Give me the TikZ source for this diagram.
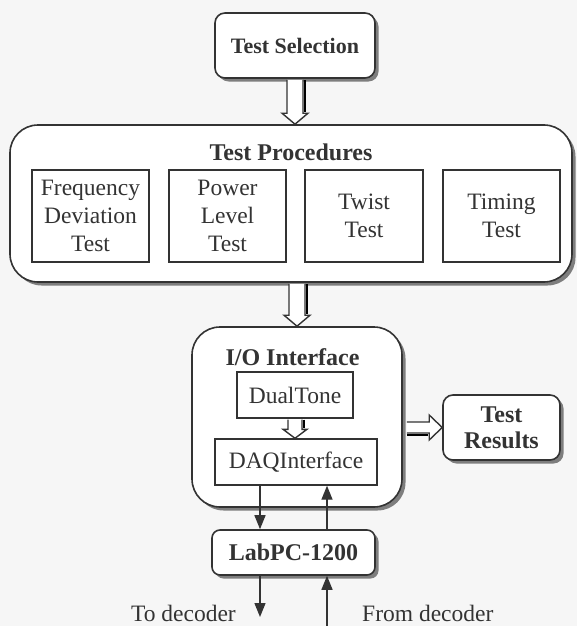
\documentclass[tikz,border=0pt]{standalone}
\usepackage{fontspec}
\setmainfont{Liberation Serif}
\usetikzlibrary{arrows.meta,calc,shadows}
\definecolor{ink}{HTML}{333333}
\definecolor{shade}{HTML}{7E7E7E}
\definecolor{paper}{HTML}{F6F6F6}
\newcommand\boldtxt{\bfseries\fontsize{24}{27}\selectfont}
\newcommand\regtxt{\fontsize{23.5}{28.3}\selectfont}
\newcommand\vhol[5]{%
  \draw[shade, line width=2pt] ($(#1)+(#3+2,1)$) -- ($(#2)+(#3+2,-#5-1)$);
  \draw[hol] ($(#1)+(-#3,1)$) -- ($(#2)+(-#3,-#5)$) -- ($(#2)+(-#4,-#5)$) -- (#2)
     -- ($(#2)+(#4,-#5)$) -- ($(#2)+(#3,-#5)$) -- ($(#1)+(#3,1)$);}
\newcommand\hhol[5]{%
  \draw[shade, line width=2pt] ($(#1)+(4,#3+2)$) -- ($(#2)+(-#5-1,#3+2)$);
  \draw[hol] ($(#1)+(4,-#3)$) -- ($(#2)+(-#5,-#3)$) -- ($(#2)+(-#5,-#4)$) -- (#2)
     -- ($(#2)+(-#5,#4)$) -- ($(#2)+(-#5,#3)$) -- ($(#1)+(4,#3)$);}
\begin{document}
\begin{tikzpicture}[x=1pt,y=-1pt,
  every node/.style={text=ink},
  roundbox/.style={draw=ink, line width=1.6pt, fill=white, align=center, inner sep=0pt,
    drop shadow={shadow xshift=3.5pt, shadow yshift=-3.5pt, fill=shade, opacity=1}},
  plainbox/.style={draw=ink, line width=1.4pt, fill=white, align=center, inner sep=0pt, font=\regtxt},
  hol/.style={draw=ink, line width=1.4pt, fill=white, line join=miter},
  thinarrow/.style={draw=ink, line width=1.4pt, -{Triangle[length=14pt,width=11pt]}},
  title/.style={font=\boldtxt, inner sep=0pt}
]
\fill[paper] (0,0) rectangle (577,626);
\useasboundingbox (0,0) rectangle (577,626);

% Test selection
\node[roundbox, rounded corners=10pt, minimum width=160pt, minimum height=65pt,
      font=\bfseries\fontsize{22}{26}\selectfont] (sel) at (295,45.5) {Test Selection};

% Test procedures
\node[roundbox, rounded corners=28pt, minimum width=562pt, minimum height=157pt] (proc) at (291,203.5) {};
\node[title] (proct) at (291,152) {Test Procedures};
\node[plainbox, minimum width=117pt, minimum height=92pt] (fdt) at (90.5,216) {Frequency\\Deviation\\Test};
\node[plainbox, minimum width=117pt, minimum height=92pt] (plt) at (227.5,216) {Power\\Level\\Test};
\node[plainbox, minimum width=118pt, minimum height=92pt] (twt) at (364,216) {Twist\\Test};
\node[plainbox, minimum width=117pt, minimum height=92pt] (tit) at (501.5,216) {Timing\\Test};

% I/O interface
\node[roundbox, rounded corners=28pt, minimum width=210pt, minimum height=180pt] (io) at (297,417) {};
\node[title] (iot) at (292.5,357) {I/O Interface};
\node[plainbox, minimum width=116pt, minimum height=46pt] (dual) at (295,395) {DualTone};
\node[plainbox, minimum width=162pt, minimum height=46pt] (daq) at (296,462) {DAQInterface};

% Test results
\node[roundbox, rounded corners=10pt, minimum width=117pt, minimum height=65pt,
      font=\bfseries\fontsize{24}{26}\selectfont] (res) at (501.5,427.5) {Test\\Results};

% LabPC
\node[roundbox, rounded corners=8pt, minimum width=163pt, minimum height=45pt, font=\boldtxt] (lab) at (293.5,552.5) {LabPC-1200};

% hollow arrows
\vhol{sel.south}{sel.south |- proc.north}{8}{13}{11}
\vhol{io.north |- proc.south}{io.north}{8}{13}{11}
\vhol{dual.south}{dual.south |- daq.north}{7}{12}{9}
\hhol{io.east |- res.west}{res.west}{5.5}{12.5}{13}

% thin arrows
\coordinate (dn) at (260,0);
\coordinate (up) at (327,0);
\coordinate (todec) at (260,617);
\coordinate (fromdec) at (327,627);
\draw[thinarrow] (daq.south -| dn) -- (lab.north -| dn);
\draw[thinarrow] (lab.north -| up) -- (daq.south -| up);
\draw[thinarrow] (lab.south -| dn) -- (todec);
\draw[thinarrow] (fromdec) -- (lab.south -| up);

\node[anchor=base east, font=\regtxt, inner sep=0pt] (tolab) at (236,621) {To decoder};
\node[anchor=base west, font=\regtxt, inner sep=0pt] (fromlab) at (362,621) {From decoder};
\end{tikzpicture}
\end{document}
